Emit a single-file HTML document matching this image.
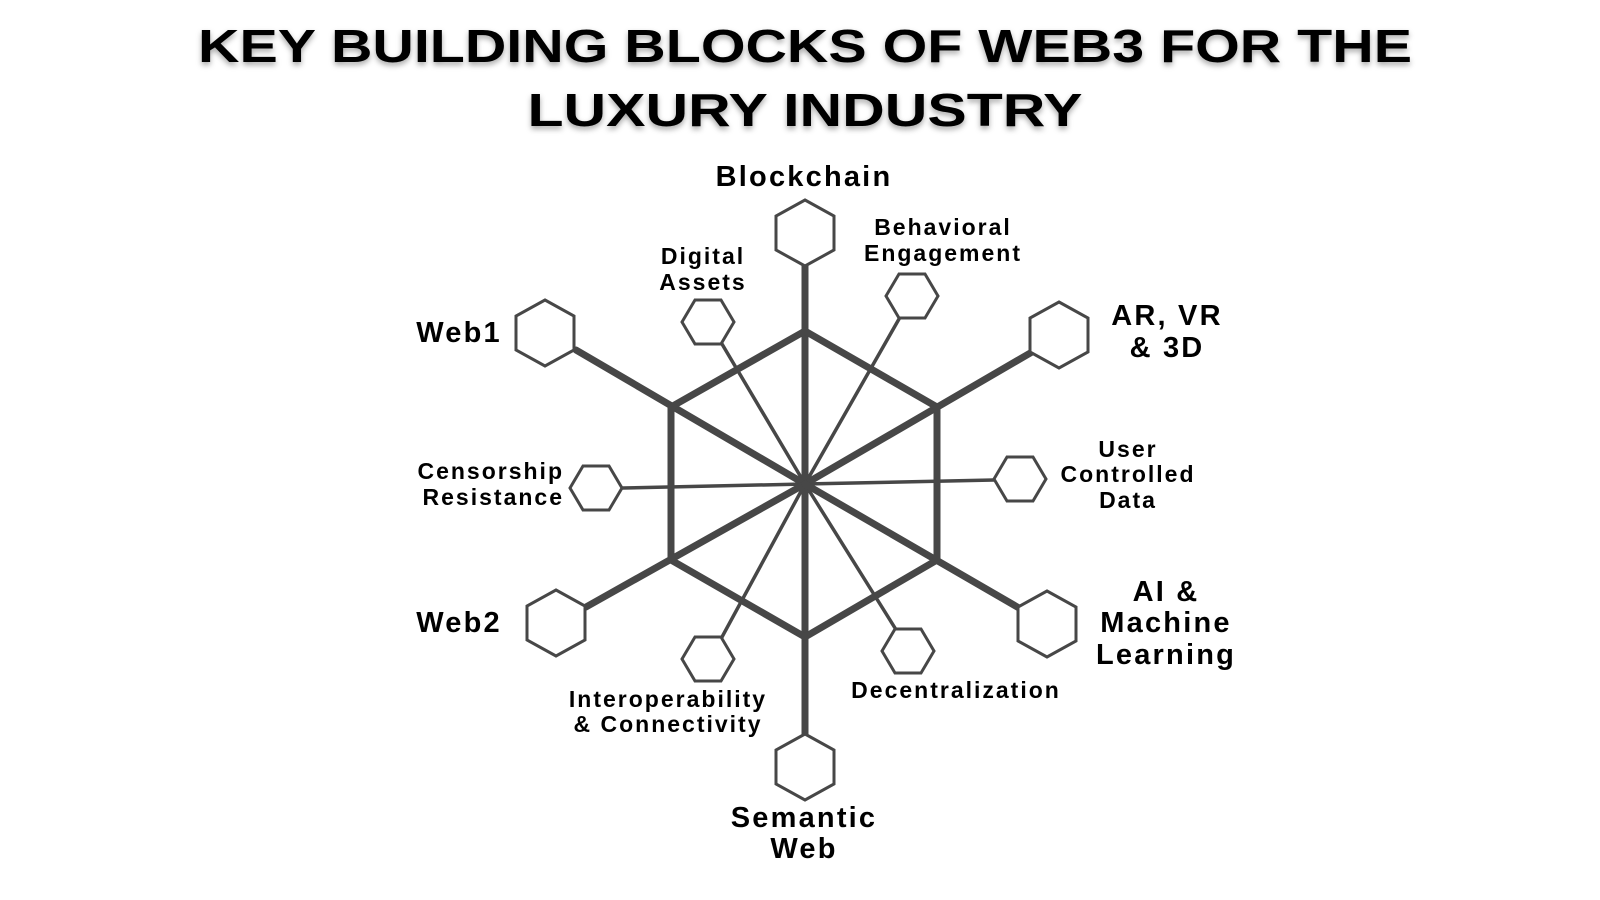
<!DOCTYPE html>
<html><head><meta charset="utf-8"><style>
html,body{margin:0;padding:0;background:#fff;}
svg{display:block;}
text{font-family:"Liberation Sans",sans-serif;font-weight:bold;fill:#000;}
</style></head><body>
<svg width="1600" height="900" viewBox="0 0 1600 900" xmlns="http://www.w3.org/2000/svg">
<defs>
<filter id="sh" x="-5%" y="-20%" width="110%" height="150%"><feDropShadow dx="0" dy="3" stdDeviation="3" flood-color="#000" flood-opacity="0.35"/></filter>
</defs>
<g filter="url(#sh)">
<text x="805" y="62" text-anchor="middle" font-size="46" textLength="1214" lengthAdjust="spacingAndGlyphs" style="font-weight:900">KEY BUILDING BLOCKS OF WEB3 FOR THE</text>
<text x="805" y="126" text-anchor="middle" font-size="46" textLength="555" lengthAdjust="spacingAndGlyphs" style="font-weight:900">LUXURY INDUSTRY</text>
</g>
<g stroke="#474747" fill="none" stroke-linecap="round">
<g stroke-width="3.5">
<line x1="805" y1="484" x2="722" y2="344"/>
<line x1="805" y1="484" x2="899" y2="319"/>
<line x1="805" y1="484" x2="994" y2="480"/>
<line x1="805" y1="484" x2="623" y2="488"/>
<line x1="805" y1="484" x2="722" y2="637"/>
<line x1="805" y1="484" x2="895" y2="628"/>
</g>
<g stroke-width="7">
<line x1="805" y1="484" x2="805" y2="266"/>
<line x1="805" y1="484" x2="805" y2="734"/>
<line x1="805" y1="484" x2="576" y2="350"/>
<line x1="805" y1="484" x2="1032" y2="352"/>
<line x1="805" y1="484" x2="586" y2="607"/>
<line x1="805" y1="484" x2="1019" y2="608"/>
<polygon points="805,331 937,407 937,560 805,637 671,560 671,407" stroke-linejoin="round"/>
</g>
<g stroke-width="3" fill="#fff">
<polygon points="805,200 834,216 834,250 805,266 776,250 776,216"/>
<polygon points="545,300 574,316 574,350 545,366 516,350 516,316"/>
<polygon points="1059,302 1088,318 1088,352 1059,368 1030,352 1030,318"/>
<polygon points="556,590 585,606 585,640 556,656 527,640 527,606"/>
<polygon points="1047,591 1076,607 1076,641 1047,657 1018,641 1018,607"/>
<polygon points="805,734 834,750 834,784 805,800 776,784 776,750"/>
</g>
<g stroke-width="3" fill="#fff">
<polygon points="682,322 695,300 721,300 734,322 721,344 695,344"/>
<polygon points="886,296 899,274 925,274 938,296 925,318 899,318"/>
<polygon points="994,479 1007,457 1033,457 1046,479 1033,501 1007,501"/>
<polygon points="570,488 583,466 609,466 622,488 609,510 583,510"/>
<polygon points="682,659 695,637 721,637 734,659 721,681 695,681"/>
<polygon points="882,651 895,629 921,629 934,651 921,673 895,673"/>
</g>
</g>
<g letter-spacing="2.2" font-size="29">
<text x="804" y="186" text-anchor="middle">Blockchain</text>
<text x="459" y="342" text-anchor="middle">Web1</text>
<text x="459" y="632" text-anchor="middle">Web2</text>
<text x="1167" y="325" text-anchor="middle">AR, VR</text>
<text x="1167" y="357" text-anchor="middle">&amp; 3D</text>
<text x="1166" y="601" text-anchor="middle">AI &amp;</text>
<text x="1166" y="632" text-anchor="middle">Machine</text>
<text x="1166" y="664" text-anchor="middle">Learning</text>
<text x="804" y="827" text-anchor="middle">Semantic</text>
<text x="804" y="858" text-anchor="middle">Web</text>
</g>
<g letter-spacing="2" font-size="23">
<text x="943" y="235" text-anchor="middle">Behavioral</text>
<text x="943" y="261" text-anchor="middle">Engagement</text>
<text x="703" y="264" text-anchor="middle">Digital</text>
<text x="703" y="290" text-anchor="middle">Assets</text>
<text x="1128" y="457" text-anchor="middle">User</text>
<text x="1128" y="482" text-anchor="middle">Controlled</text>
<text x="1128" y="508" text-anchor="middle">Data</text>
<text x="564" y="479" text-anchor="end">Censorship</text>
<text x="564" y="505" text-anchor="end">Resistance</text>
<text x="956" y="698" text-anchor="middle">Decentralization</text>
<text x="668" y="707" text-anchor="middle">Interoperability</text>
<text x="668" y="732" text-anchor="middle">&amp; Connectivity</text>
</g>
</svg>
</body></html>
